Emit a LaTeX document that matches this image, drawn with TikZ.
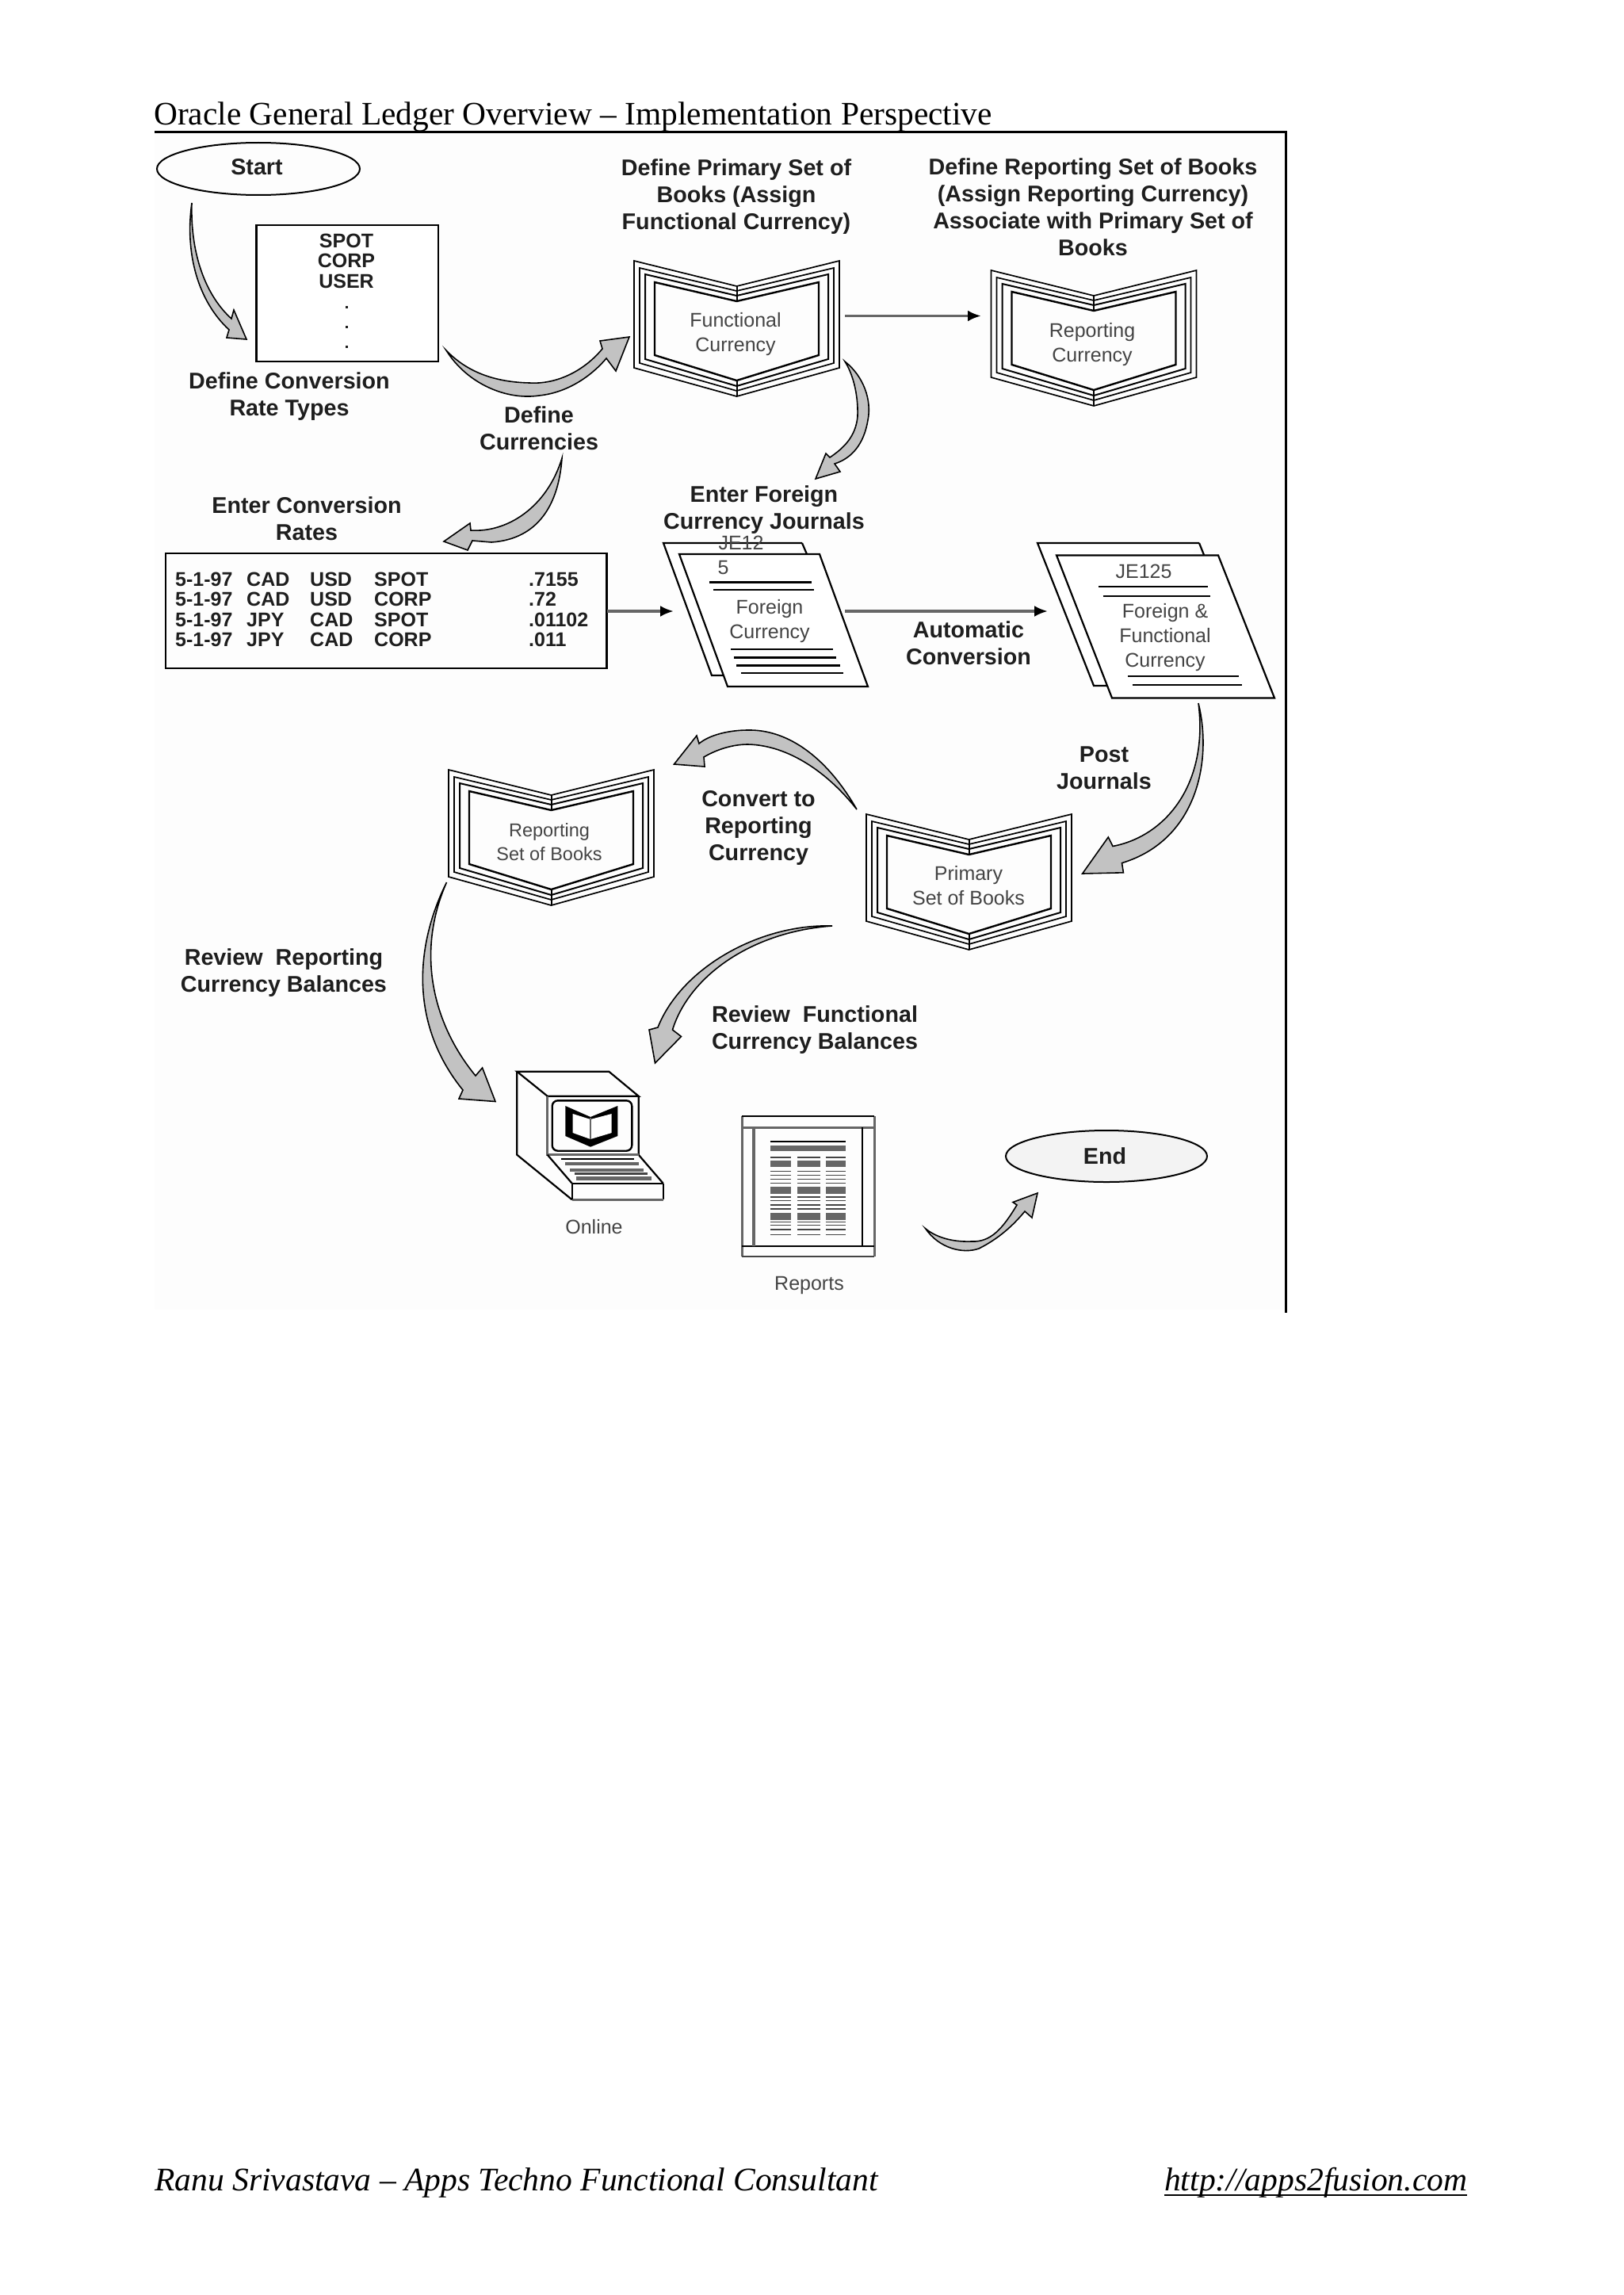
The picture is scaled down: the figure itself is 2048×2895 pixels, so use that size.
\documentclass[tikz,border=0pt]{standalone}
\usepackage{fontspec}
\setmainfont{Liberation Serif}
\setsansfont{Liberation Sans}
\usetikzlibrary{arrows.meta,shapes.geometric}
\definecolor{arrowgray}{HTML}{C2C2C2}
\definecolor{linegray}{HTML}{666666}
\definecolor{inkdark}{HTML}{1E1E1E}
\definecolor{inkmid}{HTML}{444444}
\definecolor{endfill}{HTML}{F3F3F3}
\definecolor{scanbg}{HTML}{FDFDFD}
\tikzset{
  lab/.style={font=\sffamily\bfseries\fontsize{28.7}{34}\selectfont,text=inkdark,align=center,inner sep=0pt},
  cell/.style={font=\sffamily\bfseries\fontsize{25}{25}\selectfont,text=inkdark,inner sep=0pt,anchor=base west},
  boxtxt/.style={font=\sffamily\bfseries\fontsize{25}{25}\selectfont,text=inkdark,inner sep=0pt},
  inlab/.style={font=\sffamily\fontsize{25}{31}\selectfont,text=inkmid,align=center,inner sep=0pt},
  crescent/.style={fill=arrowgray,draw=black,line width=1.6pt,line join=miter},
  thinline/.style={draw=black,line width=2pt},
  flow/.style={draw=linegray,line width=3.5pt,-{Latex[black,length=17pt,width=14pt]}},
  paper/.style={draw=black,line width=2.2pt,line join=miter},
  ell/.style={ellipse,draw=black,line width=2pt,inner sep=0pt},
  foot/.style={font=\itshape\fontsize{41.55}{46}\selectfont,inner sep=0pt,anchor=base west},
}
% open book drawn from its top-centre point
\newcommand{\openbook}[1]{%
  \begin{scope}[shift={(#1)}]
    \foreach \xo/\ya/\yb/\yc/\yd/\lw in {0/0/32/135/171/1.7,7/9/38/129/164/1.7,14/17/44/124/158/2,26/27/51/119/151/2.4}{
      \draw[black,line width=\lw pt,line join=miter]
        (-129.5+\xo,\ya) -- (0,\yb) -- (129.5-\xo,\ya) -- (129.5-\xo,\yc) -- (0,\yd) -- (-129.5+\xo,\yc) -- cycle;
    }
    \draw[black,line width=2pt] (0,32) -- (0,51) (0,151) -- (0,171);
  \end{scope}}
\begin{document}
\begin{tikzpicture}[x=1pt,y=-1pt]
\useasboundingbox (0,0) rectangle (2048,2895);
\fill[white] (0,0) rectangle (2048,2895);
\fill[scanbg] (195,168) rectangle (1622,1652);

% page text
\node[anchor=base west,inner sep=0pt,font=\fontsize{41.4}{46}\selectfont] (title) at (194,158)
  {Oracle General Ledger Overview – Implementation Perspective};
\node[foot] (footl) at (195,2763) {Ranu Srivastava – Apps Techno Functional Consultant};
\node[foot] (footr) at (1469,2763) {http://apps2fusion.com};
\draw[black,line width=2.4pt] (footr.west |- 0,2769) -- (footr.east |- 0,2769);

% frame
\draw[black,line width=3pt] (195,167) -- (1622,167) -- (1622,1656);

% start / rate types
\node[ell,minimum width=256pt,minimum height=66pt] (start) at (326,213) {};
\node[lab] (startt) at (324,211) {Start};
\draw[black,line width=2.6pt,fill=white] (323.5,284) rectangle (553,456);
\node[boxtxt,align=center,font=\sffamily\bfseries\fontsize{25}{25.5}\selectfont] (types) at (437,329) {SPOT\\CORP\\USER};
\foreach \yy in {387,412,437}{\fill[inkdark] (436,\yy-1.5) rectangle (438.5,\yy+1.5);}
\node[lab] (t1) at (365,500) {Define Conversion\\Rate Types};
\node[lab] (t2) at (680,540) {Define\\Currencies};
\node[lab] (t3) at (929,248) {Define Primary Set of\\Books (Assign\\Functional Currency)};
\node[lab] (t4) at (1379,261) {Define Reporting Set of Books\\(Assign Reporting Currency)\\Associate with Primary Set of\\Books};
\node[lab] (t5) at (964,643) {Enter Foreign\\Currency Journals};
\node[lab] (t6) at (387,654) {Enter Conversion\\Rates};
\node[lab] (t7) at (1222,811) {Automatic\\Conversion};
\node[lab] (t8) at (1393,969) {Post\\Journals};
\node[lab] (t9) at (957,1044) {Convert to\\Reporting\\Currency};
\node[lab] (t10) at (358,1227) {Review\ \ Reporting\\Currency Balances};
\node[lab] (t11) at (1028,1299) {Review\ \ Functional\\Currency Balances};

% books
\openbook{929.5,329}
\node[inlab] (bk1) at (928,422) {Functional\\Currency};
\openbook{1380,341}
\node[inlab] (bk2) at (1378,435) {Reporting\\Currency};
\openbook{695.5,971}
\node[inlab,font=\sffamily\fontsize{23.5}{30}\selectfont] (bk3) at (693,1062) {Reporting\\Set of Books};
\openbook{1222.5,1027}
\node[inlab] (bk4) at (1222,1117) {Primary\\Set of Books};

% rate table
\draw[black,line width=2.6pt] (209,698) rectangle (765.5,843);
\foreach \yy/\aa/\bb/\cc/\dd/\ee in {739/5-1-97/CAD/USD/SPOT/.7155,764/5-1-97/CAD/USD/CORP/.72,790/5-1-97/JPY/CAD/SPOT/.01102,815/5-1-97/JPY/CAD/CORP/.011}{
  \node[cell] (ra\yy) at (221,\yy) {\aa};
  \node[cell] (rb\yy) at (311,\yy) {\bb};
  \node[cell] (rc\yy) at (391,\yy) {\cc};
  \node[cell] (rd\yy) at (472,\yy) {\dd};
  \node[cell] (re\yy) at (667,\yy) {\ee};
}

% journal 1
\draw[paper,fill=white] (1012,685) -- (837,685) -- (898,852) -- (918,852);
\draw[paper] (1012,685) -- (1018,699);
\draw[paper,fill=white] (857,699) -- (1034,699) -- (1095,866) -- (918,866) -- cycle;
\node[inlab,font=\sffamily\fontsize{25}{25}\selectfont] (j1a) at (935,685) {JE12};
\node[inlab,font=\sffamily\fontsize{25}{25}\selectfont] (j1b) at (912.5,716) {5};
\draw[black,line width=3pt] (895,734) -- (1024,734);
\draw[black,line width=2pt] (900,744) -- (1027,744);
\node[inlab] (j1c) at (971,784) {Foreign\\Currency};
\draw[black,line width=2pt] (922,819) -- (1051,819) (935,849) -- (1064,849);
\draw[black,line width=3pt] (926,829) -- (1055,829) (929,839) -- (1060,839);

% journal 2
\draw[paper,fill=white] (1513,685) -- (1309,685) -- (1380,865) -- (1403,865);
\draw[paper] (1513,685) -- (1519,700);
\draw[paper,fill=white] (1333,700.5) -- (1537,700.5) -- (1608,880.5) -- (1403,880.5) -- cycle;
\node[inlab,font=\sffamily\fontsize{25}{25}\selectfont] (j2a) at (1443,721) {JE125};
\draw[black,line width=2pt] (1386,740) -- (1524,740) (1391.5,751.5) -- (1527,751.5);
\node[inlab] (j2b) at (1470,804.5) {Foreign \&\\Functional\\Currency};
\draw[black,line width=2pt] (1423,852.5) -- (1563,852.5) (1428.5,864) -- (1567,864);

% straight arrows
\coordinate (b1e) at (1066,398.5); \coordinate (b2w) at (1238,398.5);
\coordinate (tbe) at (766,771); \coordinate (j1w) at (850,771);
\coordinate (j1e) at (1066,771); \coordinate (j2w) at (1322,771);
\draw[flow] (b1e) -- (b2w);
\draw[flow] (tbe) -- (j1w);
\draw[flow] (j1e) -- (j2w);

% curved arrows
\coordinate (c1s) at (242,256); \coordinate (c1t) at (311,428);
\draw[crescent] (c1s) .. controls (233,320) and (250,380) .. (289,416) -- (286,426) -- (c1t) -- (295,391) -- (292,402) .. controls (262,375) and (240,325) .. (c1s) -- cycle;
\coordinate (c2s) at (563,442); \coordinate (c2t) at (794,425);
\draw[crescent] (c2s) .. controls (590,485) and (640,505) .. (680,499) .. controls (720,495) and (750,470) .. (765,452) -- (777,468) -- (c2t) -- (757,430) -- (760,440) .. controls (735,470) and (700,485) .. (668,483) .. controls (625,482) and (590,470) .. (c2s) -- cycle;
\coordinate (c3s) at (1066,456); \coordinate (c3t) at (1029,604);
\draw[crescent] (c3s) .. controls (1090,475) and (1100,505) .. (1095,530) .. controls (1090,560) and (1075,578) .. (1053,585) -- (1060,595) -- (c3t) -- (1042,572) -- (1047,577) .. controls (1065,565) and (1080,550) .. (1082,525) .. controls (1083,495) and (1075,470) .. (c3s) -- cycle;
\coordinate (c4s) at (709,578); \coordinate (c4t) at (560,683);
\draw[crescent] (c4s) .. controls (705,635) and (680,680) .. (620,684) -- (596,682) -- (590,694) -- (c4t) -- (593,660) -- (594,669) .. controls (640,672) and (690,640) .. (c4s) -- cycle;
\coordinate (c5s) at (1512,887); \coordinate (c5t) at (1365.7,1102);
\draw[crescent] (c5s) .. controls (1530,960) and (1510,1060) .. (1415.5,1088.6) -- (1417.4,1100.8) -- (c5t) -- (1398.3,1056) -- (1404,1067.5) .. controls (1470,1055) and (1525,990) .. (c5s) -- cycle;
\coordinate (c6s) at (1081,1021); \coordinate (c6t) at (850.5,964);
\draw[crescent] (c6s) .. controls (1040,950) and (990,920) .. (943.5,921) .. controls (920,921) and (895,927) .. (882,938) -- (879,928) -- (c6t) -- (889,967) -- (888,955) .. controls (905,945) and (925,939) .. (943.5,939) .. controls (995,940) and (1045,975) .. (c6s) -- cycle;
\coordinate (c7s) at (563.5,1113); \coordinate (c7t) at (625,1389.5);
\draw[crescent] (c7s) .. controls (525,1190) and (515,1290) .. (584,1375) -- (579,1386) -- (c7t) -- (608.6,1347) -- (600,1357) .. controls (545,1290) and (525,1200) .. (c7s) -- cycle;
\coordinate (c8s) at (1050,1168); \coordinate (c8t) at (826.5,1341);
\draw[crescent] (c8s) .. controls (960,1165) and (860,1220) .. (830,1296) -- (819,1299) -- (c8t) -- (859.5,1307.5) -- (848.5,1299) .. controls (870,1230) and (950,1175) .. (c8s) -- cycle;
\coordinate (c9s) at (1167.6,1549.7); \coordinate (c9t) at (1309,1505);
\draw[crescent] (c9s) .. controls (1185,1575) and (1215,1582) .. (1235,1575) .. controls (1265,1560) and (1283,1540) .. (1293,1528) -- (1302,1536) -- (c9t) -- (1278,1516.5) -- (1283,1520) .. controls (1265,1550) and (1250,1567) .. (1226,1566) .. controls (1200,1567) and (1180,1560) .. (c9s) -- cycle;

% computer
\draw[black,line width=2.2pt,line join=miter] (652.3,1351.7) -- (768.3,1351.7) -- (805.7,1382.7) -- (690.7,1382.7) -- cycle;
\draw[black,line width=2.2pt,line join=miter] (652.3,1351.7) -- (652.3,1456.7) -- (721.7,1513.3);
\draw[black,line width=2.2pt] (805.7,1382.7) -- (805.7,1456.7) -- (836.7,1492.7);
\draw[linegray,line width=3pt] (690.7,1382.7) -- (690.7,1456.7) -- (805.7,1456.7);
\draw[black,line width=2.2pt] (690.7,1456.7) -- (721.7,1492.7);
\draw[black,line width=2.2pt] (721.7,1492.7) -- (836.7,1492.7);
\draw[black,line width=2.2pt] (836.7,1492.7) -- (836.7,1513.3);
\draw[linegray,line width=3.5pt] (721.7,1513.3) -- (836.7,1513.3);
\draw[black,line width=2pt] (721.7,1492.7) -- (721.7,1513.3);
\draw[black,line width=2.4pt,rounded corners=7pt] (696.7,1388.3) rectangle (797.3,1451.7);
\fill[black] (713.3,1395) -- (745,1409) -- (779.3,1395) -- (779.3,1433) -- (745,1446.7) -- (713.3,1433) -- cycle;
\fill[white] (722.7,1405) -- (745,1412) -- (771.7,1405) -- (771.7,1429) -- (745,1437) -- (722.7,1429) -- cycle;
\draw[linegray,line width=2.5pt] (745,1410) -- (745,1437);
\draw[black,line width=2.2pt] (708.3,1462.3) -- (800,1462.3);
\fill[linegray] (713.3,1466) rectangle (805.7,1470);
\fill[linegray] (719.3,1474) rectangle (811.7,1477.5);
\fill[inkmid] (725,1479) rectangle (817.3,1482);
\fill[linegray] (727.3,1483.5) rectangle (822.3,1489);
\node[inlab] (online) at (749.5,1548) {Online};

% report
\draw[linegray,line width=3pt] (936,1408) -- (936,1585) (1103,1408) -- (1103,1585);
\draw[black,line width=2.4pt] (936,1408) -- (1103,1408) (936,1572) -- (1103,1572);
\draw[inkmid,line width=2.4pt] (936,1585) -- (1103,1585);
\draw[linegray,line width=3pt] (936,1422) -- (1103,1422);
\draw[linegray,line width=3.5pt] (951,1422) -- (951,1572);
\draw[black,line width=2.2pt] (1088,1422) -- (1088,1572);
\draw[black,line width=2.2pt] (971.7,1440) -- (1066.7,1440);
\fill[linegray] (971.7,1444.5) rectangle (1066.7,1451.7);
\foreach \xa/\xb in {971.7/998.3,1006/1035,1041.7/1066.7}{
  \foreach \yy in {1460,1477.7,1482.3,1487.7,1492.7,1510,1514.3,1520,1525,1541.7,1545.7,1551,1557.3}{
    \draw[inkmid,line width=1.5pt] (\xa,\yy) -- (\xb,\yy);
  }
  \fill[linegray] (\xa,1463.5) rectangle (\xb,1472);
  \fill[linegray] (\xa,1496.5) rectangle (\xb,1506);
  \fill[linegray] (\xa,1530) rectangle (\xb,1538.5);
}
\node[inlab] (reports) at (1021,1621) {Reports};

% end
\node[ell,fill=endfill,minimum width=254pt,minimum height=65pt] (endn) at (1396,1458.5) {};
\node[lab] (endt) at (1394,1458) {End};
\end{tikzpicture}
\end{document}
